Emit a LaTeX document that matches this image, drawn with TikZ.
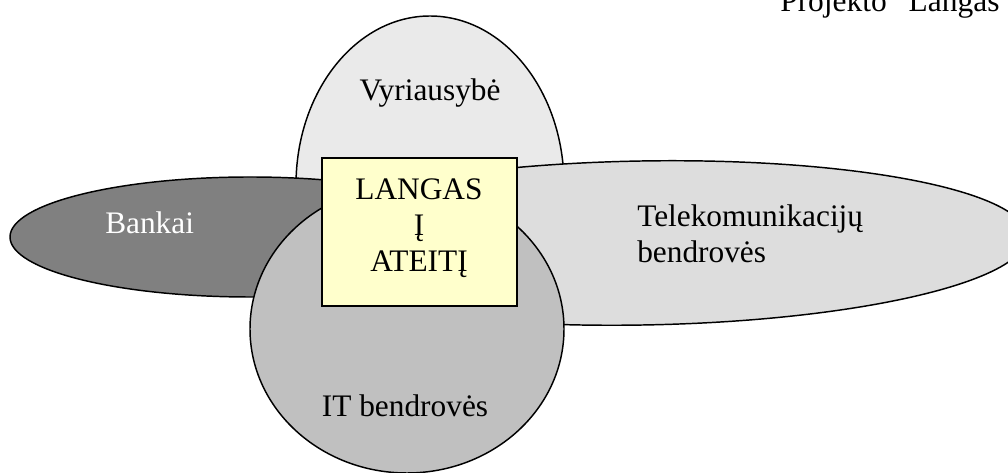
\documentclass[tikz,border=0pt]{standalone}
\usepackage{fontspec}
\setmainfont{Liberation Serif}
\definecolor{vyrcol}{HTML}{EAEAEA}
\definecolor{telcol}{HTML}{DDDDDD}
\definecolor{bankcol}{HTML}{808080}
\definecolor{itcol}{HTML}{C0C0C0}
\definecolor{boxcol}{HTML}{FFFFCC}
\tikzset{
  blob/.style={draw=black, line width=1.1pt},
  lbl/.style={inner sep=0pt, font=\fontsize{23.5}{27.2}\selectfont},
  hdr/.style={inner sep=0pt, font=\fontsize{23.6}{27}\selectfont},
  centerbox/.style={draw=black, line width=0.8pt, fill=boxcol}
}
\begin{document}
\begin{tikzpicture}[x=0.75pt, y=-0.75pt]
\useasboundingbox (0,0) rectangle (1008,473);
\clip (0,0) rectangle (1008,473);
% Vyriausybe
\path[blob, fill=vyrcol] (430,185) ellipse [x radius=134, y radius=169];
% Telekomunikaciju bendroves
\path[blob, fill=telcol, rotate around={1:(642,243)}] (642,243) ellipse [x radius=385, y radius=82];
% Bankai
\path[blob, fill=bankcol] (250,237) ellipse [x radius=240, y radius=60];
% IT bendroves
\path[blob, fill=itcol] (407,329) ellipse [x radius=157, y radius=144];
% center box
\path[centerbox] (322,158) rectangle (517,306);
\coordinate (boxc) at (419.5,232);
% labels
\node[lbl, anchor=base] (vyr) at (430,101) {Vyriausybė};
\node[lbl, anchor=base west, text=white] (bank) at (105,234) {Bankai};
\node[lbl, anchor=north west, align=left] (tel) at (637,204.5) {Telekomunikacijų\\bendrovės};
\node[lbl, anchor=base] (it) at (405,417) {IT bendrovės};
\node[lbl, anchor=north, align=center] (langas) at (419,178.3) {LANGAS\\Į\\ATEITĮ};
\node[hdr, anchor=base west] (hdr) at (780,12) {Projekto "Langas};
\end{tikzpicture}
\end{document}
